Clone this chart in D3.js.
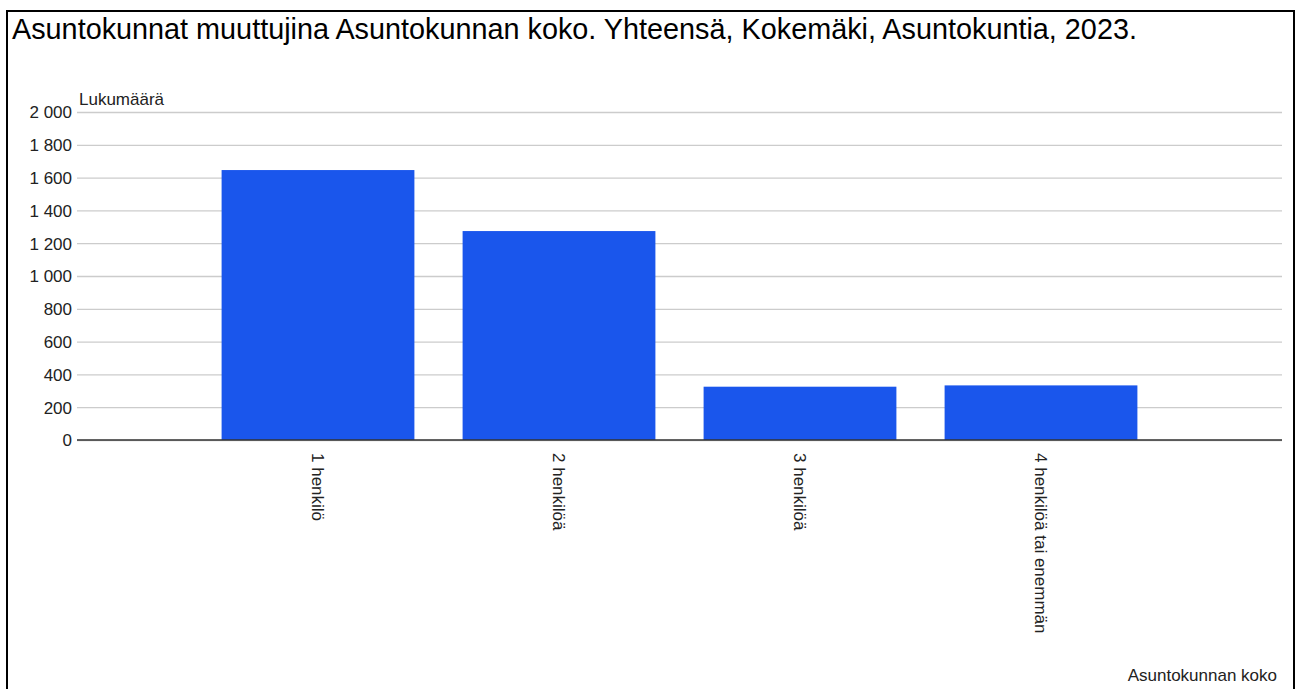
<!DOCTYPE html>
<html>
<head>
<meta charset="utf-8">
<script src="https://cdn.jsdelivr.net/npm/d3@7"></script>
<style>
  body { margin: 0; background: #fff; }
  svg { display: block; font-family: Arial, "Liberation Sans", sans-serif; }
</style>
</head>
<body>
<div id="chart"></div>
<script>
// data
let categories = ["1 henkilö", "2 henkilöä", "3 henkilöä", "4 henkilöä tai enemmän"];
let values = [1646, 1274, 325, 333];
let yTicks = [0, 200, 400, 600, 800, 1000, 1200, 1400, 1600, 1800, 2000];

let width = 1301;
let height = 689;
let plotLeft = 77, plotRight = 1282, plotTop = 112, plotBottom = 440;

let svg = d3.select("#chart")
    .append("svg")
    .attr("width", width)
    .attr("height", height);

// frame
svg.append("rect")
    .attr("x", 7).attr("y", 11)
    .attr("width", 1287).attr("height", 700)
    .attr("fill", "none")
    .attr("stroke", "#000")
    .attr("stroke-width", 2);

svg.append("text")
    .attr("x", 12).attr("y", 39)
    .style("font-size", "28.8px")
    .attr("fill", "#000")
    .text("Asuntokunnat muuttujina Asuntokunnan koko. Yhteensä, Kokemäki, Asuntokuntia, 2023.");

let x = d3.scalePoint()
    .domain(categories)
    .range([plotLeft, plotRight])
    .padding(1);
let barW = x.step() * 0.8;

let y = d3.scaleLinear()
    .domain([0, 2000])
    .range([plotBottom, plotTop]);

// grid
let yAxis = d3.axisLeft(y)
    .tickValues(yTicks)
    .tickSize(-(plotRight - plotLeft))
    .tickPadding(5)
    .tickFormat(d => d3.format(",")(d).replace(/,/g, " "));

let gy = svg.append("g")
    .attr("transform", `translate(${plotLeft},0)`)
    .call(yAxis);
gy.select(".domain").remove();
gy.selectAll(".tick line").attr("stroke", "#cccccc").attr("stroke-width", 1.3);
gy.selectAll(".tick text")
    .attr("fill", "#222")
    .style("font-size", "17px")
    .attr("dy", "0.35em");

svg.append("text")
    .attr("x", plotLeft + 2).attr("y", 105)
    .style("font-size", "17px")
    .attr("fill", "#222")
    .text("Lukumäärä");

// bars
svg.append("g")
    .selectAll("rect")
    .data(values)
    .join("rect")
    .attr("x", (d, i) => x(categories[i]) - barW / 2)
    .attr("y", d => y(d))
    .attr("width", barW)
    .attr("height", d => y(0) - y(d))
    .attr("fill", "#1a56ec");

// baseline
svg.append("line")
    .attr("x1", plotLeft).attr("x2", plotRight)
    .attr("y1", y(0)).attr("y2", y(0))
    .attr("stroke", "#333")
    .attr("stroke-width", 1.5);

// category labels, rotated
svg.append("g")
    .selectAll("text")
    .data(categories)
    .join("text")
    .attr("transform", d => `translate(${x(d)},${plotBottom + 13}) rotate(90)`)
    .attr("dy", "0.35em")
    .style("font-size", "17px")
    .attr("fill", "#222")
    .text(d => d);

svg.append("text")
    .attr("x", 1277).attr("y", 681)
    .attr("text-anchor", "end")
    .style("font-size", "17px")
    .attr("fill", "#222")
    .text("Asuntokunnan koko");
</script>
</body>
</html>
